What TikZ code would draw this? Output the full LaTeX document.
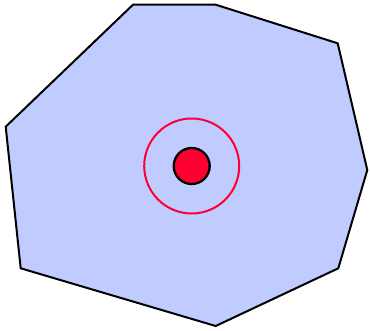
\documentclass[tikz,border=0pt]{standalone}
\usepackage{tikz}
\usetikzlibrary{positioning}
\usepackage{xcolor}
\definecolor{meuazulclaro}{RGB}{192,204,255}
\definecolor{meuvermelho}{RGB}{255,0,51}

\begin{document}
\begin{tikzpicture}[x=1pt, y=1pt]
        \useasboundingbox (0,0) rectangle (370,330);

        % Poligono de fundo
        \draw[line width=2pt, fill=meuazulclaro] (133,325.3) -- (215.7,325.3) -- (337.7,286.7) -- (367.3,160) -- (338.3,61.7) -- (215.7,4) -- (20.7,61.7) -- (5.7,203.3) -- cycle;

        % Centro e anel
        \coordinate (centro) at (191.7,164);
        \draw[meuvermelho, line width=2pt] (centro) circle (47.5);
        \draw[line width=2.3pt, fill=meuvermelho] (centro) circle (18);
    \end{tikzpicture}
\end{document}
